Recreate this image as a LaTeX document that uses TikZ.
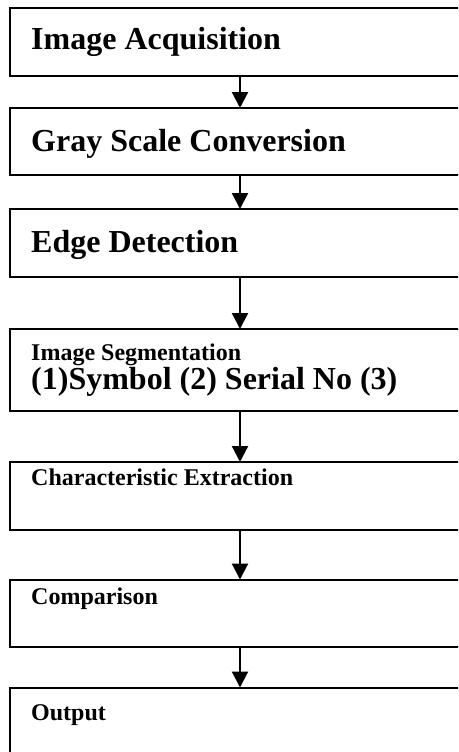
\documentclass[tikz,border=0pt]{standalone}
\usepackage{fontspec}
\setmainfont{Liberation Serif}
\usetikzlibrary{arrows.meta}
\tikzset{
	stage/.style={draw, line width=2, minimum width=460, inner sep=0, outer sep=0, anchor=north west},
	bigtext/.style={anchor=base west, inner sep=0, font=\fontsize{32}{38}\selectfont\bfseries},
	smalltext/.style={anchor=base west, inner sep=0, font=\fontsize{24}{29}\selectfont\bfseries},
	flow/.style={line width=2.2, -{Triangle[width=16,length=16]}}
}
\begin{document}
\begin{tikzpicture}[x=1pt,y=-1pt]
		\path[use as bounding box] (0,0) rectangle (458,752);
		\clip (0,0) rectangle (458,752);
		\node[stage, minimum height=67.5] (acq) at (10,8) {};
		\node[stage, minimum height=67] (gray) at (10,108) {};
		\node[stage, minimum height=68] (edge) at (10,209) {};
		\node[stage, minimum height=82] (seg) at (10,329) {};
		\node[stage, minimum height=67.5] (feat) at (10,462) {};
		\node[stage, minimum height=67] (comp) at (10,579.5) {};
		\node[stage, minimum height=80] (out) at (10,687.5) {};
		\node[bigtext] (acqtxt) at (31,49) {Image Acquisition};
		\node[bigtext] (graytxt) at (31,151) {Gray Scale Conversion};
		\node[bigtext] (edgetxt) at (31,252) {Edge Detection};
		\node[smalltext] (segtxt) at (31,360) {Image Segmentation};
		\node[bigtext] (segsub) at (31,389) {(1)Symbol (2) Serial No (3)};
		\node[smalltext] (feattxt) at (31,485) {Characteristic Extraction};
		\node[smalltext] (comptxt) at (31,604) {Comparison};
		\node[smalltext] (outtxt) at (31,720) {Output};
		\draw[flow] (acq.south) -- (gray.north);
		\draw[flow] (gray.south) -- (edge.north);
		\draw[flow] (edge.south) -- (seg.north);
		\draw[flow] (seg.south) -- (feat.north);
		\draw[flow] (feat.south) -- (comp.north);
		\draw[flow] (comp.south) -- (out.north);
	\end{tikzpicture}
\end{document}
